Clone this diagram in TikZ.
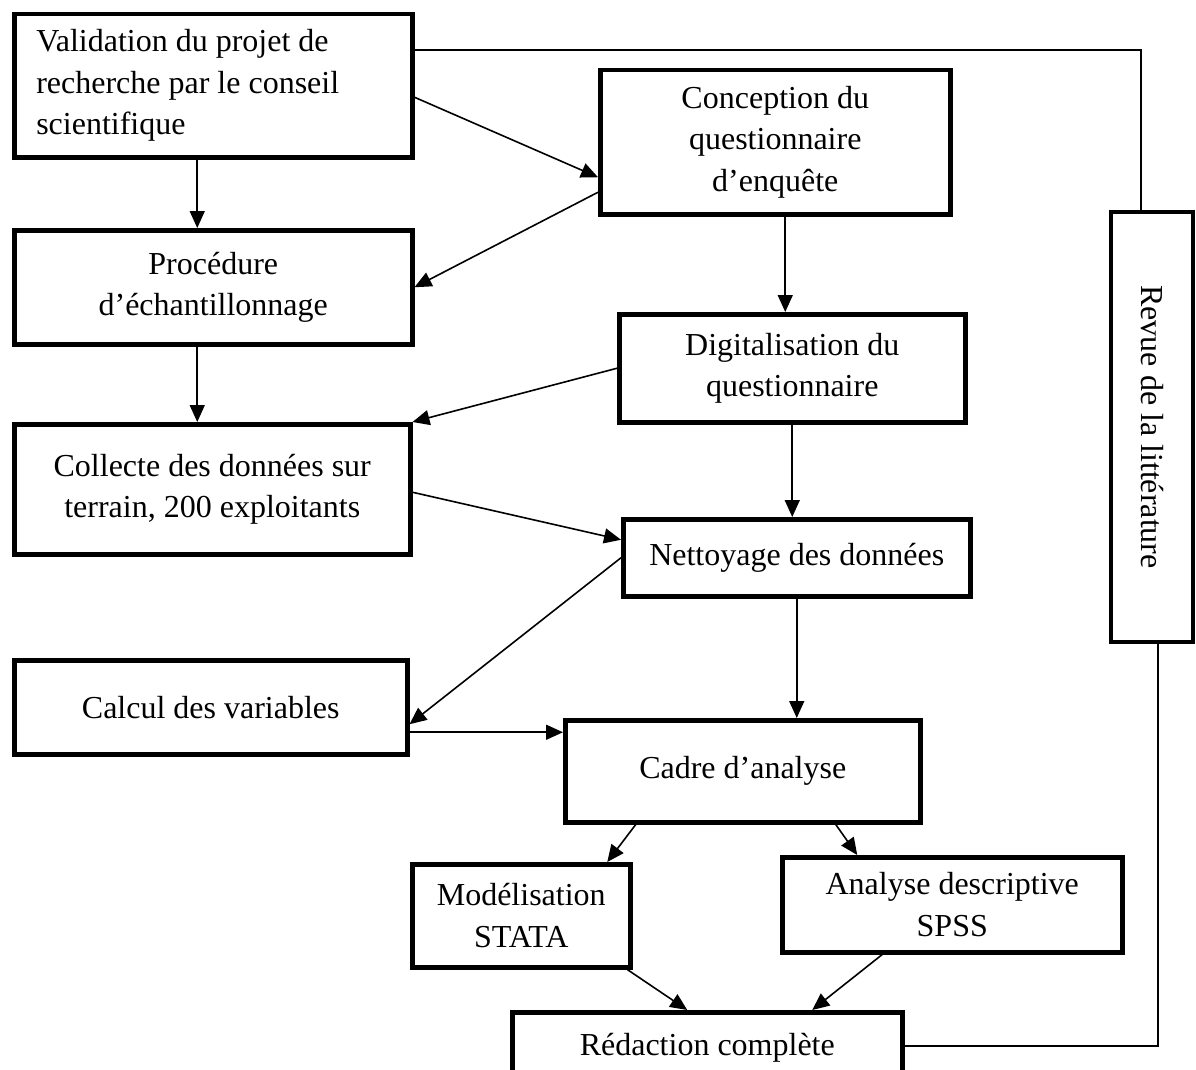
\documentclass[tikz,border=0pt]{standalone}
\usepackage{fontspec}
\usepackage{graphicx}
\setmainfont{Liberation Serif}
\usetikzlibrary{arrows.meta}

\begin{document}
\begin{tikzpicture}[x=1pt, y=-1pt,
  box/.style={draw, line width=4.5pt, align=center, inner sep=4pt, font=\fontsize{32}{41.5}\selectfont},
  arr/.style={line width=1.6pt, -{Triangle[length=17pt, width=15pt]}},
  link/.style={line width=1.6pt}]
\useasboundingbox (0,0) rectangle (1196,1070);

% Boxes of the left column
\node[box, anchor=north west, minimum width=398pt, minimum height=143pt, text width=354pt, inner xsep=22pt, align=flush left] (valid) at (12,12) {Validation du projet de\\recherche par le conseil\\scientifique};
\node[box, anchor=north west, minimum width=398pt, minimum height=114pt] (proc) at (12,228) {Procédure\\d'échantillonnage};
\node[box, anchor=north west, minimum width=396pt, minimum height=130pt] (collecte) at (12,422) {Collecte des données sur\\terrain, 200 exploitants};
\node[box, anchor=north west, minimum width=393pt, minimum height=94pt] (calcul) at (12,658) {Calcul des variables};

% Boxes of the middle column
\node[box, anchor=north west, minimum width=350pt, minimum height=144pt] (concep) at (598,68) {Conception du\\questionnaire\\d'enquête};
\node[box, anchor=north west, minimum width=346pt, minimum height=108pt] (digit) at (617,312) {Digitalisation du\\questionnaire};
\node[box, anchor=north west, minimum width=347pt, minimum height=77pt] (nettoy) at (621,517) {Nettoyage des données};
\node[box, anchor=north west, minimum width=355pt, minimum height=102pt] (cadre) at (563,718) {Cadre d'analyse};
\node[box, anchor=north west, minimum width=218pt, minimum height=103pt] (model) at (410,862) {Modélisation\\STATA};
\node[box, anchor=north west, minimum width=340pt, minimum height=95pt] (analyse) at (780,855) {Analyse descriptive\\SPSS};
\node[box, anchor=north west, minimum width=390pt, minimum height=72pt] (redac) at (510,1010) {Rédaction complète};

% Literature review on the right
\node[box, minimum width=82pt, minimum height=430pt, inner sep=0pt] (revue) at (1152,427) {\rotatebox{-90}{Revue de la littérature}};

% Arrows
\draw[arr] ([yshift=-11.5pt]valid.east) -- ([yshift=-35pt]concep.west);
\draw[arr] ([xshift=-16pt]valid.south) -- ([xshift=-16pt]proc.north);
\draw[arr] ([yshift=-50pt]concep.west) -- (proc.east);
\draw[arr] ([xshift=10pt]concep.south) -- ([xshift=10pt]concep.south |- digit.north);
\draw[arr] ([xshift=-16pt]proc.south) -- ([xshift=-15pt]collecte.north);
\draw[arr] (digit.west) -- (collecte.north east);
\draw[arr] (digit.south) -- (digit.south |- nettoy.north);
\draw[arr] ([yshift=-3pt]collecte.east) -- ([yshift=18pt]nettoy.west);
\draw[arr] (nettoy.west) -- ([yshift=-17pt]calcul.east);
\draw[arr] (nettoy.south) -- (nettoy.south |- cadre.north);
\draw[arr] ([yshift=-25pt]calcul.east) -- ([yshift=-25pt]calcul.east -| cadre.west);
\draw[arr] ([xshift=-107pt]cadre.south) -- ([xshift=86pt]model.north);
\draw[arr] ([xshift=93pt]cadre.south) -- ([xshift=-95pt]analyse.north);
\draw[arr] ([xshift=106pt]model.south) -- ([xshift=-20pt]redac.north);
\draw[arr] ([xshift=-70pt]analyse.south) -- ([xshift=105pt]redac.north);

% Links to the literature review
\draw[link] ([yshift=35.5pt]valid.east) -| ([xshift=-11pt]revue.north);
\draw[link] ([xshift=6pt]revue.south) |- ([yshift=2pt]redac.east);
\end{tikzpicture}
\end{document}
